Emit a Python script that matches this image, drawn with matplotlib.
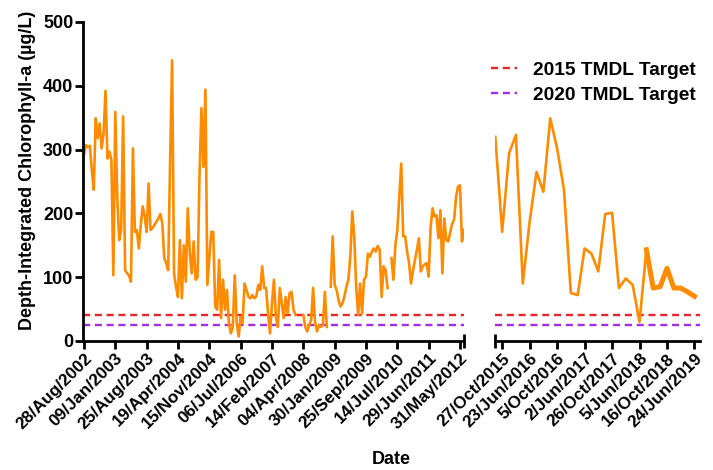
import numpy as np
import matplotlib
matplotlib.use("Agg")
import matplotlib.pyplot as plt

nan = np.nan

# chlorophyll-a samples 2002-2012 (equally spaced, one slot per sample)
chl_early = [
    292, 307, 304, 306, 268, 237, 349, 318, 341, 302, 325, 392, 286, 297, 284, 103,
    359, 224, 158, 174, 352, 111, 106, 103, 93, 302, 171, 174, 145, 182, 211, 195,
    171, 247, 174, 177, 182, 187, 192, 199, 184, 130, 122, 111, 284, 440, 106, 85,
    69, 158, 67, 150, 93, 208, 140, 106, 156, 96, 100, 260, 365, 273, 394, 88,
    130, 171, 171, 54, 49, 127, 36, 96, 49, 80, 28, 12, 22, 103, 28, 7,
    38, 28, 90, 80, 69, 67, 72, 67, 70, 88, 80, 117, 83, 83, 43, 12,
    59, 96, 38, 22, 83, 59, 36, 69, 43, 75, 77, 49, 41, nan, nan, nan,
    41, 22, 15, 25, 33, 83, 30, 15, 25, 22, 25, 77, 22, nan, 85, 164,
    88, 80, 64, 54, 59, 70, 85, 96, 132, 203, 164, 85, 41, 90, 43, 96,
    101, 137, 132, 140, 145, 140, 149, 143, 69, 117, 111, 83, nan, 130, 96, 150,
    174, 226, 278, 164, 164, 140, 122, 90, 110, 127, 143, 161, 109, 117, 120, 122,
    101, 179, 208, 195, 197, 161, 205, 106, 192, 158, 156, 170, 184, 190, 226, 242,
    244, 156, 174,
]
early_labels = ["28/Aug/2002", "09/Jan/2003", "25/Aug/2003", "19/Apr/2004",
                "15/Nov/2004", "06/Jul/2006", "14/Feb/2007", "04/Apr/2008",
                "30/Jan/2009", "25/Sep/2009", "14/Jul/2010", "29/Jun/2011",
                "31/May/2012"]

# chlorophyll-a samples 2015-2019
chl_late = [320, 171, 294, 323, 90, 187, 265, 234, 349, 302, 237, 75, 72, 145, 137,
            109, 199, 201, 83, 98, 88, 30, 143, 83, 85, 114, 83, 83, 77, 70]
late_labels = ["27/Oct/2015", "23/Jun/2016", "5/Oct/2016", "2/Jun/2017",
               "26/Oct/2017", "5/Jun/2018", "16/Oct/2018", "24/Jun/2019"]

target_2015 = 40
target_2020 = 25

plt.rcParams['font.family'] = ['Liberation Sans', 'DejaVu Sans']
plt.rcParams['font.weight'] = 'bold'

orange = '#ff8c00'
red = '#e3262b'
purple = '#a22ee0'

fig = plt.figure(figsize=(7.13, 4.70), dpi=100)
ax1 = fig.add_axes([0.1164, 0.2745, 0.5348, 0.6787])
ax2 = fig.add_axes([0.6942, 0.2745, 0.2875, 0.6787])

x1 = np.arange(len(chl_early))
x2 = np.arange(len(chl_late))

for ax in (ax1, ax2):
    l1 = ax.axhline(target_2015, color=red, lw=1.7, ls=(0, (3, 2)), label='2015 TMDL Target')
    l2 = ax.axhline(target_2020, color=purple, lw=1.7, ls=(0, (3, 2)), label='2020 TMDL Target')

ax1.plot(x1, chl_early, color=orange, lw=1.9)
ax2.plot(x2, chl_late, color=orange, lw=1.9)
ax2.plot(x2[22:], chl_late[22:], color=orange, lw=3.6, solid_joinstyle='round')

ax1.set_xlim(-0.5, 194.2)
ax2.set_xlim(-0.05, 29.8)
for ax in (ax1, ax2):
    ax.set_ylim(0, 500)
    ax.spines['top'].set_visible(False)
    ax.spines['right'].set_visible(False)
    ax.spines['bottom'].set_linewidth(2)
    ax.tick_params(axis='x', length=6, width=2, labelsize=12.3, pad=1)

ax1.spines['left'].set_linewidth(2)
ax1.set_yticks([0, 100, 200, 300, 400, 500])
ax1.tick_params(axis='y', length=6, width=2, labelsize=13, pad=1)
ax1.set_xticks(np.arange(0, 193, 16))
ax1.set_xticklabels(early_labels, rotation=45, ha='right', rotation_mode='anchor')
ax1.set_xticks([194.2], minor=True)
ax1.tick_params(axis='x', which='minor', direction='inout', length=10, width=2)

ax2.spines['left'].set_visible(False)
ax2.set_yticks([])
ax2.set_xticks(np.arange(1, 30, 4))
ax2.set_xticklabels(late_labels, rotation=45, ha='right', rotation_mode='anchor')
ax2.set_xticks([-0.05], minor=True)
ax2.tick_params(axis='x', which='minor', direction='inout', length=10, width=2)

ax1.set_ylabel('Depth-Integrated Chlorophyll-a (µg/L)', fontsize=13, fontweight='bold')
ax1.yaxis.set_label_coords(-0.123, 0.536)
fig.text(0.549, 0.004, 'Date', ha='center', va='bottom', fontsize=13, fontweight='bold')

fig.legend(handles=[l1, l2], loc='upper left', bbox_to_anchor=(0.688, 0.87),
           frameon=False, fontsize=13.8, handlelength=1.4, handletextpad=0.8,
           labelspacing=0.4, borderpad=0, borderaxespad=0)

fig.savefig('out.png', dpi=100)
